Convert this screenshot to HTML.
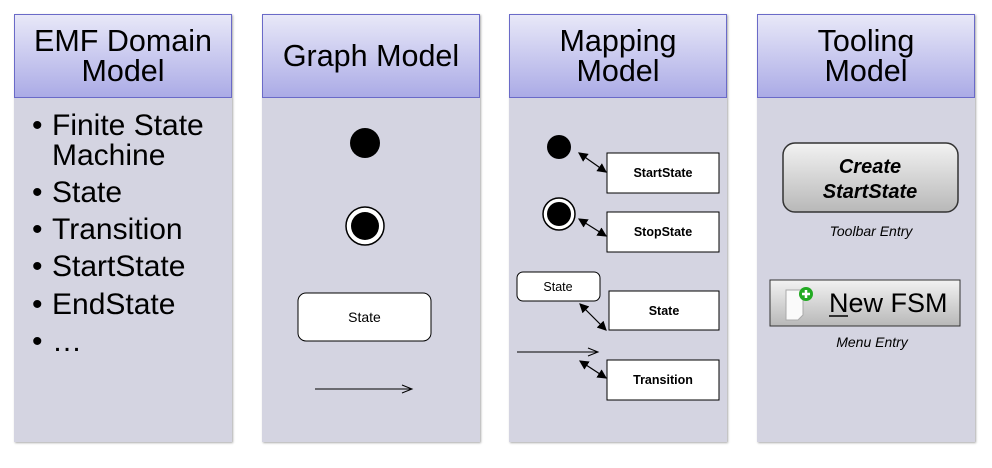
<!DOCTYPE html>
<html><head><style>
body{margin:0;width:992px;height:468px;background:#fff;position:relative;overflow:hidden;font-family:"Liberation Sans",sans-serif}
.col{position:absolute;top:14px;width:218px;height:428px;background:#d4d4e1;box-shadow:1px 1px 2px #aaa}
.hd{position:absolute;left:0;top:0;width:216px;height:82px;border:1px solid #6a6ac8;background:linear-gradient(#e8e8f8,#ababe6);display:flex;align-items:center;justify-content:center;text-align:center;font-size:30.5px;line-height:30px;color:#000}
.li{position:absolute;left:18px;font-size:30px;line-height:30px}
.li b{font-weight:normal;position:absolute;left:0}
.li span{position:absolute;left:20px;white-space:nowrap}
</style></head><body>
<div class="col" style="left:14px"><div class="hd">EMF Domain<br>Model</div>
<div class="li" style="top:97px"><b>•</b><span>Finite State<br>Machine</span></div>
<div class="li" style="top:164px"><b>•</b><span>State</span></div>
<div class="li" style="top:201px"><b>•</b><span>Transition</span></div>
<div class="li" style="top:238px"><b>•</b><span>StartState</span></div>
<div class="li" style="top:276px"><b>•</b><span>EndState</span></div>
<div class="li" style="top:313px"><b>•</b><span>…</span></div>
</div>
<div class="col" style="left:262px"><div class="hd">Graph Model</div></div>
<div class="col" style="left:509px"><div class="hd">Mapping<br>Model</div></div>
<div class="col" style="left:757px"><div class="hd">Tooling<br>Model</div></div>
<svg width="992" height="468" style="position:absolute;left:0;top:0" font-family="Liberation Sans, sans-serif">
<defs><marker id="a" markerWidth="8" markerHeight="8" refX="7" refY="4" orient="auto-start-reverse"><path d="M0,0 L8,4 L0,8z" fill="#000"/></marker></defs>
<circle cx="365" cy="143" r="15"/>
<circle cx="365" cy="226" r="19" fill="#fff" stroke="#000" stroke-width="1.5"/><circle cx="365" cy="226" r="14"/>
<rect x="298" y="293" width="133" height="48" rx="8" fill="#fff" stroke="#000"/>
<text x="364.5" y="322" font-size="14" text-anchor="middle">State</text>
<line x1="315" y1="389" x2="412" y2="389" stroke="#000"/><path d="M402,385 L412,389 L402,393" fill="none" stroke="#000"/>
<circle cx="559" cy="147" r="12"/>
<circle cx="559" cy="214" r="16" fill="#fff" stroke="#000" stroke-width="1.5"/><circle cx="559" cy="214" r="12"/>
<g fill="#fff" stroke="#000"><rect x="607" y="153" width="112" height="40"/><rect x="607" y="212" width="112" height="40"/><rect x="609" y="291" width="110" height="39"/><rect x="607" y="360" width="112" height="40"/><rect x="517" y="272" width="83" height="29" rx="6"/></g>
<g font-size="12.5" font-weight="bold" text-anchor="middle"><text x="663" y="177">StartState</text><text x="663" y="236">StopState</text><text x="664" y="315">State</text><text x="663" y="384">Transition</text></g>
<text x="558" y="291" font-size="12.5" text-anchor="middle">State</text>
<line x1="517" y1="352" x2="598" y2="352" stroke="#000"/><path d="M588,348 L598,352 L588,356" fill="none" stroke="#000"/>
<g stroke="#000" stroke-width="1.2" marker-start="url(#a)" marker-end="url(#a)"><line x1="579" y1="153" x2="606" y2="172"/><line x1="579" y1="219" x2="606" y2="236"/><line x1="580" y1="304" x2="606" y2="330"/><line x1="580" y1="361" x2="606" y2="378"/></g>
<defs><linearGradient id="g" x1="0" y1="0" x2="0" y2="1"><stop offset="0" stop-color="#f2f2f2"/><stop offset="1" stop-color="#b8b8b8"/></linearGradient></defs>
<rect x="783" y="143" width="175" height="69" rx="12" fill="url(#g)" stroke="#333" stroke-width="1.5"/>
<g font-size="20" font-weight="bold" font-style="italic" text-anchor="middle"><text x="870" y="173">Create</text><text x="870" y="198">StartState</text></g>
<text x="871" y="236" font-size="14" font-style="italic" text-anchor="middle">Toolbar Entry</text>
<rect x="770" y="280" width="190" height="46" fill="url(#g)" stroke="#333"/>
<path d="M786,290 h17 v25 l-5,5 h-12z" fill="#fafafa" stroke="#aaa"/>
<circle cx="806" cy="294" r="7" fill="#2a2"/><path d="M806,290 v8 M802,294 h8" stroke="#fff" stroke-width="2.5"/>
<text x="829" y="312" font-size="27">New FSM</text><line x1="829" y1="316" x2="848" y2="316" stroke="#000" stroke-width="1.5"/>
<text x="872" y="347" font-size="14" font-style="italic" text-anchor="middle">Menu Entry</text>
</svg>
</body></html>
